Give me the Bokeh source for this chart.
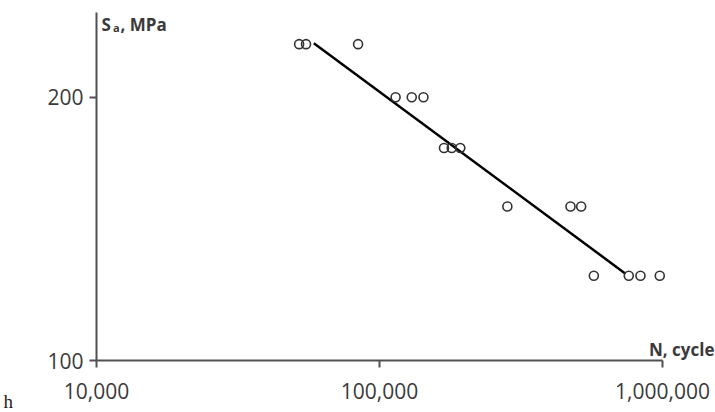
import math
from bokeh.plotting import figure
from bokeh.models import FixedTicker, NumeralTickFormatter, Label, Range1d, LogAxis
from bokeh.embed import file_html
from bokeh.resources import INLINE

# ---- data ----
cycles = [52000, 55000, 84000, 114000, 130000, 143000, 169000, 180000, 193000,
          283000, 473000, 516000, 572000, 760000, 836000, 978000]
stress = [230, 230, 230, 200, 200, 200, 175, 175, 175,
          150, 150, 150, 125, 125, 125, 125]
fit_cycles = [58600, 740000]
fit_stress = [230.5, 125.7]
x_ticks = [10000, 100000, 1000000]
y_ticks = [100, 200]

X0, X1 = 10000, 1000000      # x-axis extent
Y0, Y1 = 100, 250            # y-axis extent

W, H = 715, 412
# pixel positions of the axis extents on the canvas
PX0, PX1 = 96, 662
PY0, PY1 = 360, 12

lx0, lx1 = math.log10(X0), math.log10(X1)
ly0, ly1 = math.log10(Y0), math.log10(Y1)

def xd(px):
    return 10 ** (lx0 + (px - PX0) / (PX1 - PX0) * (lx1 - lx0))

def yd(py):
    return 10 ** (ly0 + (PY0 - py) / (PY0 - PY1) * (ly1 - ly0))

p = figure(width=W, height=H, x_axis_type="log", y_axis_type="log",
           x_range=Range1d(xd(0), xd(W)), y_range=Range1d(yd(H), yd(0)),
           x_axis_location=None, y_axis_location=None,
           output_backend="svg", toolbar_location=None,
           min_border_left=0, min_border_right=0, min_border_top=0, min_border_bottom=0)
p.outline_line_color = None
p.xgrid.visible = False
p.ygrid.visible = False
p.background_fill_color = "white"
p.border_fill_color = "white"

FONT = "Open Sans"
TXT = "#3a3a3a"
AX = "#505050"

xaxis = LogAxis(fixed_location=Y0, bounds=(X0, X1))
yaxis = LogAxis(fixed_location=X0, bounds=(Y0, Y1))
p.add_layout(xaxis, "below")
p.add_layout(yaxis, "left")

for ax in (xaxis, yaxis):
    ax.axis_line_color = AX
    ax.axis_line_width = 2
    ax.major_tick_line_color = AX
    ax.major_tick_line_width = 2
    ax.major_tick_in = 0
    ax.major_tick_out = 7
    ax.minor_tick_line_color = None
    ax.major_label_text_font = FONT
    ax.major_label_text_font_size = "21px"
    ax.major_label_text_color = TXT

xaxis.ticker = FixedTicker(ticks=x_ticks)
xaxis.formatter = NumeralTickFormatter(format="0,0")
xaxis.major_label_standoff = 15
yaxis.ticker = FixedTicker(ticks=y_ticks)
yaxis.formatter = NumeralTickFormatter(format="0")
yaxis.major_label_standoff = 6

p.line(fit_cycles, fit_stress, line_color="black", line_width=2.5)
p.scatter(cycles, stress, marker="circle", size=9, line_color="#333333",
          line_width=1.6, fill_color="white", fill_alpha=0.0)

lbl = dict(text_font=FONT, text_font_style="bold", text_color=TXT, text_baseline="alphabetic")
p.add_layout(Label(x=xd(101), y=yd(24), text="S", text_font_size="17px", **lbl))
p.add_layout(Label(x=xd(112.5), y=yd(26.5), text="a", text_font_size="11px", **lbl))
p.add_layout(Label(x=xd(120), y=yd(24), text=", MPa", text_font_size="17px", **lbl))
p.add_layout(Label(x=xd(714), y=yd(348.5), text="N, cycle", text_font_size="17px",
                   text_align="right", **lbl))
p.add_layout(Label(x=xd(3), y=yd(411), text="h", text_font="Liberation Serif",
                   text_font_size="19px", text_color="#222222", text_baseline="bottom"))

open("out.html", "w").write(file_html(p, INLINE))
